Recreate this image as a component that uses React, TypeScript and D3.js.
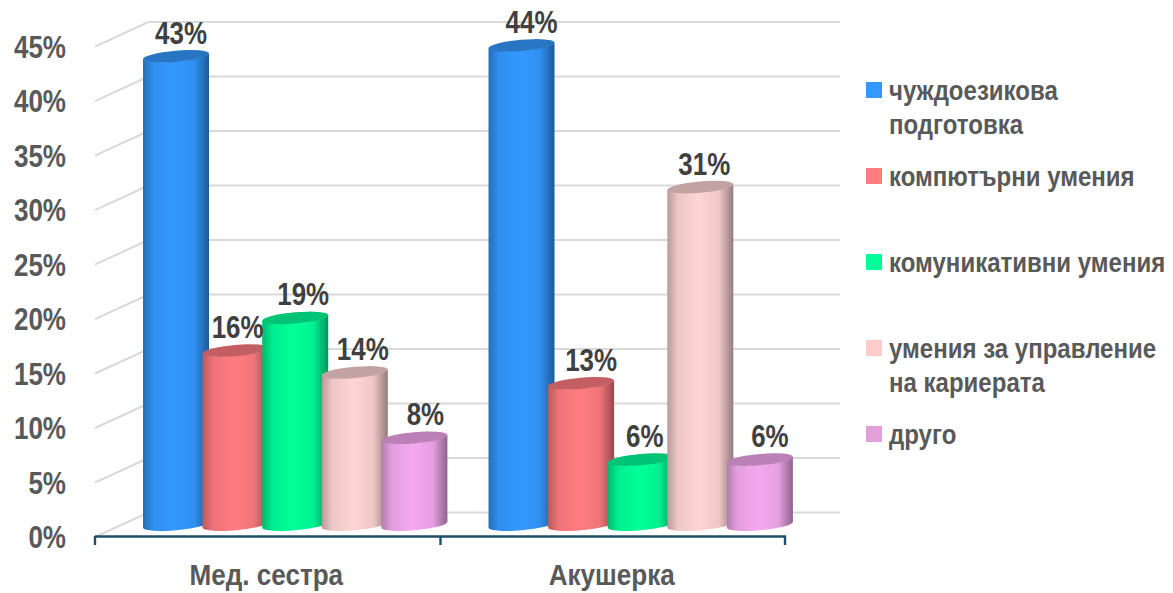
import React from "react";
import * as d3 from "d3";

const categories = ["Мед. сестра", "Акушерка"];
const seriesNames = ["чуждоезикова подготовка", "компютърни умения", "комуникативни умения", "умения за управление на кариерата", "друго"];
const legendLines = [["чуждоезикова", "подготовка"], ["компютърни умения"], ["комуникативни умения"], ["умения за управление", "на кариерата"], ["друго"]];
const medSestra = [43, 16, 19, 14, 8];
const akusherka = [44, 13, 6, 31, 6];
const yTicks = [0, 5, 10, 15, 20, 25, 30, 35, 40, 45];
const barColors = ["#3399ff", "#ff7c80", "#00ff99", "#ffd4d4", "#f4a9ee"];
const legendColors = ["#3399ff", "#ff7c80", "#00ff99", "#ffcccc", "#e29fd8"];

const W = 1173, H = 593;
const FONT = "'Liberation Sans', Arial, sans-serif";
const labelNudge = [[5, 2, 8, 8, 11], [10, 10, 4, 4, 10]];

const yFront = d3.scaleLinear().domain([0, 45]).range([537, 46.6]);
const yBack = d3.scaleLinear().domain([0, 45]).range([512.5, 22]);
const yBar = d3.scaleLinear().domain([0, 45]).range([525, 34.5]);
const xGroup = d3.scaleBand<string>().domain(categories).range([95, 786]);
const xBar = d3.scaleLinear().domain([0, 1]).range([0, 59.6]);
const barW = 66, rx = 33.2, ry = 5.6, tilt = 5;
const rise = Math.sin((tilt * Math.PI) / 180) * rx;

function T({ x, y, s, size, fill, anchor = "start", sx = 0.9 }: any) {
  return (
    <text transform={`translate(${x},${y}) scale(${sx},1)`} fontFamily={FONT} fontWeight="bold" fontSize={size} fill={fill} textAnchor={anchor}>
      {s}
    </text>
  );
}

function Bar({ cx, value, idx }: { cx: number; value: number; idx: number }) {
  const top = yBar(value), base = yBar(0);
  const l = cx - barW / 2, r = cx + barW / 2;
  const d = `M${l},${top + rise}L${l},${base + rise}A${rx},${ry} ${-tilt} 0 0 ${r},${base - rise}L${r},${top - rise}A${rx},${ry} ${-tilt} 0 1 ${l},${top + rise}Z`;
  const topFill = d3.color(barColors[idx])!.darker(0.75).formatHex();
  return (
    <g>
      <path d={d} fill={`url(#grad${idx})`} />
      <ellipse cx={cx} cy={top} rx={rx} ry={ry} transform={`rotate(${-tilt} ${cx} ${top})`} fill={topFill} />
    </g>
  );
}

export default function App() {
  const groups = [medSestra, akusherka];
  return (
    <svg width={W} height={H} viewBox={`0 0 ${W} ${H}`} style={{ position: "absolute", left: 0, top: 0, background: "#fff" }}>
      <defs>
        {barColors.map((c, i) => {
          const dark = d3.color(c)!.darker(0.9).formatHex();
          const darker = d3.color(c)!.darker(1.5).formatHex();
          return (
            <linearGradient key={i} id={`grad${i}`} x1="0" x2="1" y1="0" y2="0">
              <stop offset="0" stopColor={dark} />
              <stop offset="0.16" stopColor={d3.interpolateRgb(dark, c)(0.75)} />
              <stop offset="0.48" stopColor={c} />
              <stop offset="0.78" stopColor={d3.interpolateRgb(c, dark)(0.22)} />
              <stop offset="1" stopColor={darker} />
            </linearGradient>
          );
        })}
      </defs>

      {yTicks.map((t) => (
        <g key={t} stroke="#d9d9d9" strokeWidth={2} fill="none">
          <line x1={95} x2={148.5} y1={yFront(t)} y2={yBack(t)} />
          <line x1={148.5} x2={840} y1={yBack(t)} y2={yBack(t)} />
        </g>
      ))}

      <g>
        <line x1={95} x2={786} y1={536.5} y2={536.5} stroke="#1f4e66" strokeWidth={2.4} />
        {[0, 1, 2].map((i) => {
          const x = i < 2 ? xGroup(categories[i])! : xGroup.range()[1];
          return <line key={i} x1={x - (i === 2 ? 1 : 0)} x2={x - (i === 2 ? 1 : 0)} y1={536} y2={545} stroke="#1f4e66" strokeWidth={2.4} />;
        })}
      </g>

      {yTicks.map((t) => (
        <T key={t} x={66} y={yFront(t) + 11} s={`${t}%`} size={31} sx={0.84} fill="#595959" anchor="end" />
      ))}

      {groups.map((vals, g) => (
        <g key={g}>
          {vals.map((v, i) => {
            const start = xGroup(categories[g])! + 48;
            return <Bar key={i} cx={start + xBar(i) + barW / 2} value={v} idx={i} />;
          })}
        </g>
      ))}

      {groups.map((vals, g) => (
        <g key={g}>
          {vals.map((v, i) => {
            const start = xGroup(categories[g])! + 48;
            const cx = start + xBar(i) + barW / 2;
            return <T key={i} x={cx + labelNudge[g][i]} y={yBar(v) - 12.5} s={`${v}%`} size={32} sx={0.81} fill="#404040" anchor="middle" />;
          })}
        </g>
      ))}

      {categories.map((c) => (
        <T key={c} x={xGroup(c)! + xGroup.bandwidth() / 2 - 1.5} y={585} s={c} size={30} sx={0.87} fill="#595959" anchor="middle" />
      ))}

      {seriesNames.map((name, i) => {
        const y0 = 82 + i * 86;
        return (
          <g key={name}>
            <rect x={866} y={y0} width={16} height={16} fill={legendColors[i]} />
            {legendLines[i].map((ln, j) => (
              <T key={j} x={889} y={y0 + 18 + j * 33.5} s={ln} size={27} sx={0.89} fill="#595959" />
            ))}
          </g>
        );
      })}
    </svg>
  );
}
